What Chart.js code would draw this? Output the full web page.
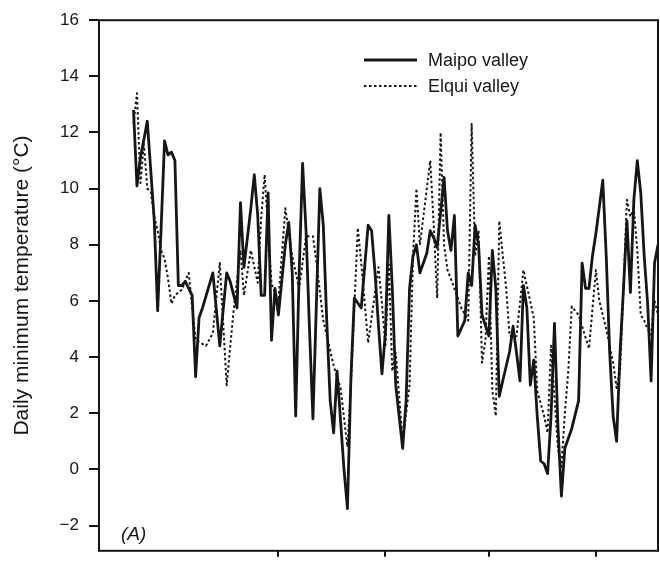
<!DOCTYPE html>
<html>
<head>
<meta charset="utf-8">
<script src="https://cdn.jsdelivr.net/npm/chart.js@4.4.1/dist/chart.umd.min.js"></script>
<style>
  html, body { margin: 0; padding: 0; background: #fff; }
</style>
</head>
<body>
<canvas id="mycanvas" width="660" height="571"></canvas>
<script>
// daily minimum temperature (day index along the x axis)
var maipoDays = [10, 11, 12, 14, 16, 17, 18, 19, 20, 21, 22, 23, 24, 25, 27, 28, 29, 30, 33, 35,
    37, 38, 40, 41, 42, 44, 45, 46, 47, 48, 49, 50, 51, 52, 54, 55, 56, 57, 58, 59,
    60, 61, 62, 64, 65, 66, 67, 68, 69, 71, 72, 73, 74, 76, 78, 79, 80, 81, 82, 83,
    84, 85, 86, 88, 89, 90, 91, 92, 93, 95, 96, 97, 98, 100, 101, 102, 103, 104, 106, 107,
    108, 109, 110, 111, 113, 114, 115, 116, 117, 119, 120, 121, 122, 123, 124, 125, 126, 127, 128, 129,
    130, 131, 132, 133, 134, 135, 137, 139, 140, 141, 142, 143, 144, 146, 147, 148, 149, 150, 151, 152,
    153, 154, 155, 156, 157, 158, 159, 160, 161, 162];
var maipoTemps = [12.8, 10.1, 11.1, 12.4, 8.9, 5.65, 8.6, 11.7, 11.2, 11.3, 11.0, 6.55, 6.55, 6.7, 6.2, 3.3, 5.4, 5.75, 7.0, 4.4,
    7.0, 6.7, 5.75, 9.5, 7.2, 9.3, 10.5, 9.05, 6.2, 6.2, 9.85, 4.6, 6.45, 5.5, 8.0, 8.8, 7.0, 1.9, 7.0, 10.9,
    8.5, 5.0, 1.8, 10.0, 8.7, 5.3, 2.45, 1.3, 3.5, 0.0, -1.4, 3.25, 6.1, 5.75, 8.7, 8.5, 7.0, 5.1, 3.4, 4.85,
    9.05, 6.45, 3.0, 0.75, 2.45, 6.45, 7.6, 8.0, 7.0, 7.7, 8.5, 8.25, 7.9, 10.4, 8.5, 7.8, 9.05, 4.75, 5.3, 7.0,
    6.55, 8.7, 8.0, 5.5, 4.75, 7.8, 6.45, 2.6, 3.15, 4.2, 5.1, 4.15, 3.15, 6.55, 5.75, 3.0, 3.9, 1.9, 0.3, 0.2,
    -0.15, 1.9, 5.2, 1.55, -0.95, 0.75, 1.45, 2.45, 7.35, 6.45, 6.45, 7.6, 8.4, 10.3, 7.6, 4.15, 1.9, 1.0, 4.15, 6.45,
    8.85, 6.3, 9.6, 11.0, 9.85, 7.6, 5.9, 3.15, 7.35, 8.0];

var elquiDays = [10, 11, 12, 13, 14, 15, 16, 17, 18, 19, 20, 21, 22, 24, 26, 28, 31, 33, 35, 37,
    39, 41, 42, 44, 46, 47, 48, 50, 52, 54, 56, 58, 60, 62, 63, 65, 68, 70, 72, 73,
    75, 76, 78, 81, 82, 83, 84, 85, 86, 88, 90, 91, 92, 93, 96, 97, 98, 99, 100, 101,
    103, 105, 107, 108, 109, 110, 111, 112, 113, 114, 115, 116, 118, 119, 121, 123, 126, 127, 129, 130,
    131, 133, 134, 135, 136, 137, 139, 142, 144, 145, 147, 149, 150, 151, 152, 153, 154, 155, 156, 157,
    158, 159, 160, 161, 162];
var elquiTemps = [12.3, 13.4, 10.2, 11.6, 10.0, 9.9, 9.0, 8.5, 7.8, 7.5, 6.8, 5.9, 6.2, 6.4, 7.0, 4.6, 4.4, 4.85, 7.35, 3.0,
    5.65, 7.8, 6.2, 7.8, 6.65, 8.95, 10.5, 6.6, 6.0, 9.3, 7.6, 6.45, 8.3, 8.3, 7.4, 5.3, 3.7, 2.9, 0.8, 3.0,
    8.6, 7.35, 4.5, 7.2, 5.9, 4.4, 7.3, 3.5, 4.15, 1.0, 3.0, 7.6, 10.0, 8.0, 11.0, 8.7, 6.1, 12.0, 8.0, 7.1,
    6.45, 5.75, 5.3, 12.3, 7.6, 8.5, 3.8, 4.6, 7.6, 2.8, 1.9, 8.85, 6.45, 4.75, 4.75, 7.1, 5.4, 2.8, 1.9, 1.3,
    4.4, 0.75, 0.1, 2.0, 3.5, 5.8, 5.5, 4.3, 7.1, 6.0, 5.0, 3.8, 2.9, 3.5, 6.5, 9.6, 9.0, 9.3, 7.8, 5.5,
    5.3, 5.0, 4.8, 6.0, 5.5];

var yTickValues = [-2, 0, 2, 4, 6, 8, 10, 12, 14, 16];
var xTickDays = [52, 83, 113, 144];

var fontFamily = "'Liberation Sans', Arial, Helvetica, sans-serif";
var ink = '#161616';

function toPoints(days, temps) {
    var pts = [];
    for (var i in days) {
        pts.push({ x: days[i], y: temps[i] });
    }
    return pts;
}

// box round the plot, inset legend and the panel letter
var framePlugin = {
    id: 'frame',
    afterDraw: function (chart) {
        var c = chart.ctx;
        var a = chart.chartArea;
        c.save();
        c.strokeStyle = ink;
        c.lineWidth = 2;
        c.strokeRect(a.left, a.top, a.right - a.left, a.bottom - a.top);

        chart.data.datasets.forEach(function (ds, i) {
            var y = 60 + i * 26;
            c.beginPath();
            c.strokeStyle = ds.borderColor;
            c.lineWidth = ds.borderWidth;
            c.setLineDash(ds.borderDash || []);
            c.moveTo(364, y);
            c.lineTo(417, y);
            c.stroke();
            c.setLineDash([]);
            c.fillStyle = ink;
            c.font = '18px ' + fontFamily;
            c.textBaseline = 'middle';
            c.textAlign = 'left';
            c.fillText(ds.label, 428, y + 1);
        });

        c.font = 'italic 19px ' + fontFamily;
        c.fillStyle = ink;
        c.textBaseline = 'middle';
        c.fillText('(A)', 121, 535);
        c.restore();
    }
};

var ctx = document.getElementById('mycanvas');

var lineChart = new Chart(ctx, {
    type: 'line',
    data: {
        datasets: [
            {
                label: 'Maipo valley',
                data: toPoints(maipoDays, maipoTemps),
                borderColor: ink,
                borderWidth: 2.8,
                fill: false
            },
            {
                label: 'Elqui valley',
                data: toPoints(elquiDays, elquiTemps),
                borderColor: ink,
                borderWidth: 2,
                borderDash: [2.5, 2.5],
                fill: false
            }
        ]
    },
    options: {
        responsive: false,
        animation: false,
        layout: { padding: { top: 15, right: 2, left: 0, bottom: 0 } },
        elements: {
            point: { radius: 0 },
            line: { tension: 0, borderJoinStyle: 'round' }
        },
        plugins: {
            legend: { display: false },
            tooltip: { enabled: false }
        },
        scales: {
            x: {
                type: 'linear',
                min: 0,
                max: 162,
                afterBuildTicks: function (scale) {
                    scale.ticks = xTickDays.map(function (d) { return { value: d }; });
                },
                afterFit: function (scale) { scale.height = 4; },
                ticks: { display: false },
                grid: { drawOnChartArea: false, drawTicks: true, tickLength: 6, color: ink, lineWidth: 2 },
                border: { display: false }
            },
            y: {
                min: -2.9,
                max: 16,
                afterBuildTicks: function (scale) {
                    scale.ticks = yTickValues.map(function (v) { return { value: v }; });
                },
                afterFit: function (scale) { scale.width = 99; },
                ticks: {
                    color: ink,
                    padding: 10,
                    font: { family: fontFamily, size: 17 },
                    callback: function (v) { return String(v).replace('-', '\u2212'); }
                },
                grid: { drawOnChartArea: false, drawTicks: true, tickLength: 10, color: ink, lineWidth: 2 },
                border: { display: false },
                title: {
                    display: true,
                    text: 'Daily minimum temperature (\u00B0C)',
                    color: ink,
                    font: { family: fontFamily, size: 21 },
                    padding: { top: 10, bottom: 0 }
                }
            }
        }
    },
    plugins: [framePlugin]
});
</script>
</body>
</html>
